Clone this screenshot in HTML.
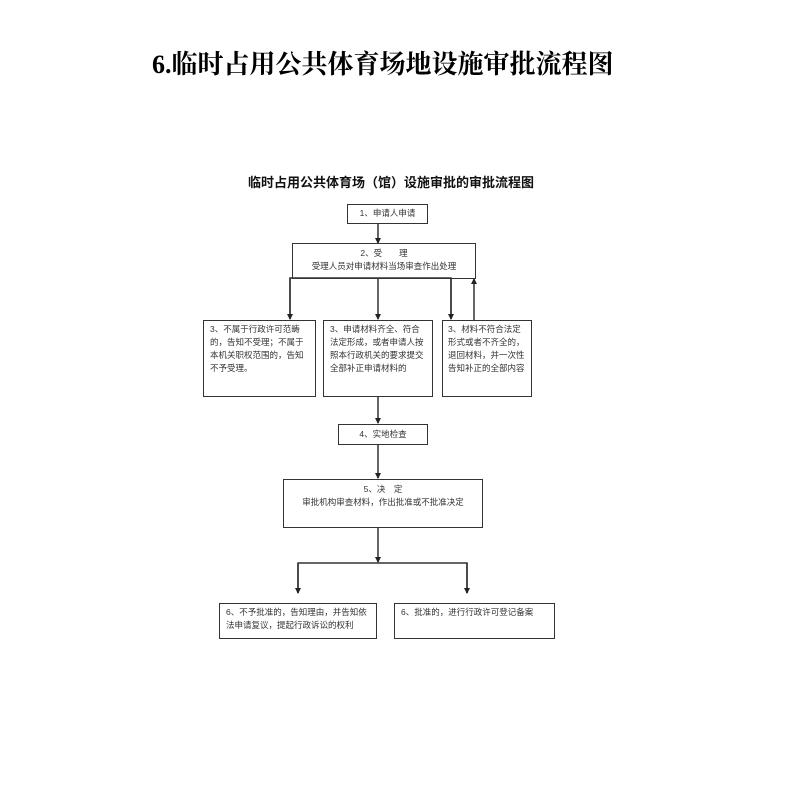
<!DOCTYPE html>
<html><head><meta charset="utf-8"><style>
body{margin:0;width:792px;height:786px;background:#fff;position:relative;overflow:hidden;font-family:"Liberation Serif","Noto Serif CJK SC",serif;color:#222}
.t{position:absolute;left:152px;top:44px;font-size:26px;font-weight:bold;white-space:nowrap;color:#000}
.st{position:absolute;left:248px;top:172px;font-size:13px;font-weight:bold;white-space:nowrap;font-family:"Liberation Sans","Noto Sans CJK SC",sans-serif;color:#111}
.b{position:absolute;border:1.5px solid #333;box-sizing:border-box;font-size:8.5px;line-height:13px;color:#333;font-family:"Liberation Sans","Noto Sans CJK SC",sans-serif}
.c{text-align:center}
svg{position:absolute;left:0;top:0}
</style></head><body>
<div class="t">6.临时占用公共体育场地设施审批流程图</div>
<div class="st">临时占用公共体育场（馆）设施审批的审批流程图</div>
<svg width="792" height="786">
<defs><marker id="a" markerWidth="6" markerHeight="6" refX="3" refY="5" orient="0" markerUnits="userSpaceOnUse"><path d="M0,0 L6,0 L3,6 z" fill="#222"/></marker>
<marker id="u" markerWidth="6" markerHeight="6" refX="3" refY="1" orient="0" markerUnits="userSpaceOnUse"><path d="M0,6 L6,6 L3,0 z" fill="#222"/></marker></defs>
<g stroke="#333" stroke-width="1.5" fill="none">
<line x1="378" y1="224" x2="378" y2="243" marker-end="url(#a)"/>
<polyline points="290,319 290,278 451,278 451,319"/>
<line x1="290" y1="278" x2="290" y2="319" marker-end="url(#a)"/>
<line x1="378" y1="278" x2="378" y2="319" marker-end="url(#a)"/>
<line x1="451" y1="278" x2="451" y2="319" marker-end="url(#a)"/>
<line x1="474" y1="320" x2="474" y2="279" marker-end="url(#u)"/>
<line x1="378" y1="397" x2="378" y2="423" marker-end="url(#a)"/>
<line x1="378" y1="445" x2="378" y2="478" marker-end="url(#a)"/>
<line x1="378" y1="528" x2="378" y2="562" marker-end="url(#a)"/>
<polyline points="298,593 298,563 467,563 467,593"/>
<line x1="298" y1="563" x2="298" y2="593" marker-end="url(#a)"/>
<line x1="467" y1="563" x2="467" y2="593" marker-end="url(#a)"/>
</g></svg>
<div class="b c" style="left:347px;top:204px;width:81px;height:20px;line-height:17px">1、申请人申请</div>
<div class="b c" style="left:292px;top:243px;width:184px;height:36px;padding-top:3px">2、受　　理<br>受理人员对申请材料当场审查作出处理</div>
<div class="b" style="left:203px;top:320px;width:113px;height:77px;padding:2px 6px">3、不属于行政许可范畴的，告知不受理；不属于本机关职权范围的，告知不予受理。</div>
<div class="b" style="left:323px;top:320px;width:110px;height:77px;padding:2px 6px">3、申请材料齐全、符合法定形成，或者申请人按照本行政机关的要求提交全部补正申请材料的</div>
<div class="b" style="left:442px;top:320px;width:90px;height:77px;padding:2px 5px">3、材料不符合法定形式或者不齐全的，退回材料，并一次性告知补正的全部内容</div>
<div class="b c" style="left:338px;top:424px;width:90px;height:21px;line-height:18px">4、实地检查</div>
<div class="b c" style="left:283px;top:479px;width:200px;height:49px;padding-top:3px">5、决　定<br>审批机构审查材料，作出批准或不批准决定</div>
<div class="b" style="left:219px;top:603px;width:158px;height:36px;padding:2px 6px">6、不予批准的，告知理由，并告知依法申请复议，提起行政诉讼的权利</div>
<div class="b" style="left:394px;top:603px;width:161px;height:36px;padding:2px 6px">6、批准的，进行行政许可登记备案</div>
</body></html>
